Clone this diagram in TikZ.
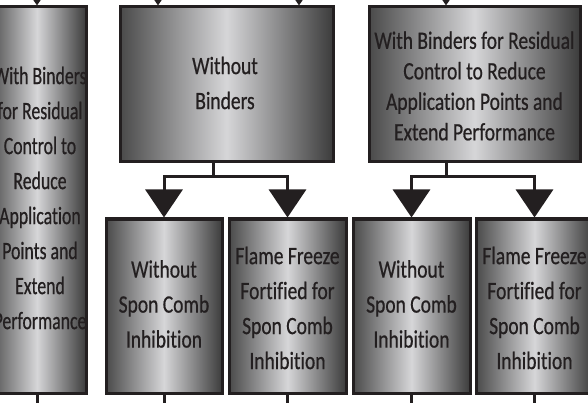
\documentclass[tikz,border=0pt]{standalone}
\usepackage{fontspec}
\setmainfont{Carlito}[FakeStretch=0.78, FakeBold=0.6, Ligatures=NoCommon]
\newfontfamily\narrowfam{Carlito}[FakeStretch=0.71, FakeBold=0.6, Ligatures=NoCommon]
\usetikzlibrary{arrows.meta}
\definecolor{ink}{HTML}{231F20}
\definecolor{edgegray}{HTML}{4A4A4A}
\definecolor{edgedark}{HTML}{3C3C3C}
\definecolor{midgray}{HTML}{D6D6D8}
\begin{document}
\begin{tikzpicture}[x=1pt,y=-1pt,
  box/.style={draw=ink, line width=3pt, rectangle, inner sep=0pt,
    left color=edgegray, right color=edgedark, middle color=midgray},
  lbl/.style={align=center, text=ink, inner sep=0pt,
    font=\fontsize{25}{35}\selectfont},
  conn/.style={draw=ink, line width=3pt},
  tipped/.style={-{Triangle[width=37pt,length=28pt]}}]
\useasboundingbox (0,0) rectangle (588,403);
\clip (0,0) rectangle (588,403);
% boxes
\node[box, minimum width=98pt, minimum height=386pt] (L) at (37,200) {};
\node[box, minimum width=213pt, minimum height=155pt] (M) at (226.5,84.5) {};
\node[box, minimum width=211pt, minimum height=155pt] (R) at (474.5,84.5) {};
\node[box, minimum width=116pt, minimum height=174pt] (B1) at (164,306) {};
\node[box, minimum width=117pt, minimum height=174pt] (B2) at (287.5,306) {};
\node[box, minimum width=117pt, minimum height=174pt] (B3) at (411.5,306) {};
\node[box, minimum width=117pt, minimum height=174pt] (B4) at (534.5,306) {};
% texts
\node[lbl, font=\narrowfam\fontsize{25}{35}\selectfont] (Lt) at (40,198) {With Binders\\for Residual\\Control to\\Reduce\\Application\\Points and\\Extend\\Performance};
\node[lbl] (Mt) at (225,83) {Without\\Binders};
\node[lbl, font=\fontsize{25}{30.5}\selectfont] (Rt) at (474.5,86) {With Binders for Residual\\Control to Reduce\\Application Points and\\Extend Performance};
\node[lbl] (B1t) at (164,304) {Without\\Spon Comb\\Inhibition};
\node[lbl] (B2t) at (287.5,308) {Flame Freeze\\Fortified for\\Spon Comb\\Inhibition};
\node[lbl] (B3t) at (411.5,304) {Without\\Spon Comb\\Inhibition};
\node[lbl] (B4t) at (534.5,308) {Flame Freeze\\Fortified for\\Spon Comb\\Inhibition};
% incoming arrows from above
\coordinate (Lin) at (37,-40);
\coordinate (Min1) at (158,-40);
\coordinate (Min2) at (299,-40);
\coordinate (Rin) at (446,-40);
\draw[conn,tipped] (Lin) -- (Lin |- L.north);
\draw[conn,tipped] (Min1) -- (Min1 |- M.north);
\draw[conn,tipped] (Min2) -- (Min2 |- M.north);
\draw[conn,tipped] (Rin) -- (Rin |- R.north);
% branches
\coordinate (Mx) at (213,177);
\coordinate (Rx) at (446,177);
\draw[conn,tipped] (M.south -| Mx) -- (Mx) -| (B1.north);
\draw[conn,tipped] (Mx) -| (B2.north);
\draw[conn,tipped] (R.south -| Rx) -- (Rx) -| (B3.north);
\draw[conn,tipped] (Rx) -| (B4.north);
% outgoing lines below
\coordinate (bot) at (0,420);
\draw[conn] (L.south) -- (L.south |- bot);
\draw[conn] (B1.south) -- (B1.south |- bot);
\draw[conn] (B2.south) -- (B2.south |- bot);
\draw[conn] (B3.south) -- (B3.south |- bot);
\draw[conn] (B4.south) -- (B4.south |- bot);
\end{tikzpicture}
\end{document}
